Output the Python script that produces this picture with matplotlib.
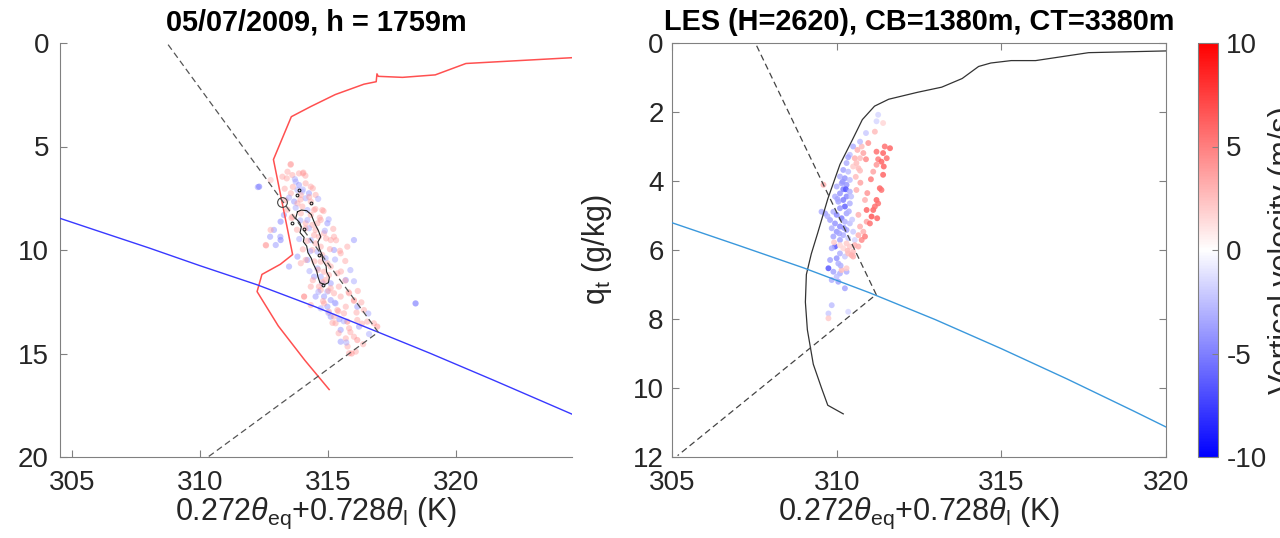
import matplotlib
matplotlib.use("Agg")
import matplotlib.pyplot as plt

plt.rcParams['font.family'] = ['Liberation Sans', 'DejaVu Sans']
plt.rcParams['mathtext.fontset'] = 'custom'
plt.rcParams['mathtext.rm'] = 'Liberation Sans'
plt.rcParams['mathtext.it'] = 'Liberation Sans:italic'
plt.rcParams['axes.unicode_minus'] = False

# ---------------- Left panel data (observations) ----------------
left_title = "05/07/2009, h = 1759m"
left_xticks = [305, 310, 315, 320]
left_yticks = [0, 5, 10, 15, 20]

obs_prof_x = [324.55, 320.4, 319.2, 317.92, 316.97, 316.92, 316.89, 316.41, 315.29, 314.33,
              313.57, 312.87, 313.62, 313.14, 312.42, 312.23, 313.06, 314.1, 315.05]
obs_prof_q = [0.71, 0.99, 1.54, 1.66, 1.61, 1.49, 1.87, 1.99, 2.49, 3.07,
              3.56, 5.63, 10.22, 10.69, 11.18, 12.01, 13.67, 15.33, 16.74]

obs_sat_x = [304.52, 306.0, 308.0, 310.0, 312.23, 314.5, 316.97, 319.0, 321.5, 324.55]
obs_sat_q = [8.47, 9.08, 9.9, 10.76, 11.68, 12.74, 13.97, 14.99, 16.30, 17.93]

obs_mix_x = [308.75, 316.97, 310.31]
obs_mix_q = [0.08, 13.97, 20.0]

obs_circle = (313.19, 7.7)

obs_cont_x = [313.81, 313.74, 313.90, 313.96, 313.91, 314.07, 314.04, 314.17, 314.22, 314.35,
              314.43, 314.56, 314.61, 314.69, 314.87, 315.02, 315.06, 314.95, 314.93, 314.80,
              314.77, 314.67, 314.61, 314.72, 314.63, 314.52, 314.43, 314.35, 314.17, 313.96,
              313.81]
obs_cont_q = [8.15, 8.47, 8.68, 8.90, 9.16, 9.39, 9.60, 9.81, 10.13, 10.40,
              10.68, 11.0, 11.29, 11.58, 11.67, 11.58, 11.32, 11.06, 10.77, 10.51,
              10.23, 9.94, 9.61, 9.36, 9.07, 8.81, 8.55, 8.29, 8.1, 8.07,
              8.15]

obs_dots_x = [313.87, 313.81, 314.33, 313.61, 314.65, 314.82, 314.05]
obs_dots_q = [7.10, 7.34, 7.75, 8.71, 10.24, 11.70, 9.00]

obs_pts_x = [313.55, 313.87, 314.04, 313.39, 312.76, 312.31, 313.61, 313.74, 313.87, 314.13,
             314.33, 314.26, 314.0, 314.52, 313.55, 313.35, 313.68, 314.0, 314.33, 314.46,
             314.78, 314.98, 314.72, 313.61, 313.28, 313.15, 312.89, 313.15, 312.57, 312.96,
             312.76, 314.13, 314.52, 314.85, 315.11, 315.24, 316.02, 315.76, 315.5, 315.24,
             313.48, 313.94, 313.81, 314.2, 314.46, 315.11, 315.37, 315.7, 315.43, 315.11,
             314.07, 314.33, 314.72, 314.52, 314.85, 315.11, 315.5, 315.83, 316.02, 314.33,
             314.98, 315.37, 315.7, 316.15, 316.41, 315.11, 315.63, 315.3, 315.76, 316.15,
             316.54, 315.5, 315.83, 316.22, 316.8, 316.93, 315.7, 316.02, 316.15, 315.5,
             316.09, 315.83, 318.43,
             313.81, 313.94, 314.13, 313.81, 314.2, 313.94, 314.33, 314.2, 314.39, 314.59,
             314.26, 314.46, 314.65, 314.33, 314.52, 314.72, 314.59, 314.78, 314.39, 314.91,
             314.72, 314.98, 314.59, 314.85, 315.04, 314.72, 314.91, 315.11, 314.78, 314.65,
             314.98, 315.24, 315.3, 314.85, 314.72, 315.04, 315.24,
             313.42, 313.54, 314.02, 312.58, 312.74, 313.14, 312.26, 315.77, 315.93, 315.45,
             313.22, 313.71, 314.12, 313.31, 313.63, 314.02, 314.41, 313.48, 313.93, 314.27,
             314.62, 313.42, 313.74, 314.51, 314.83, 313.58, 313.92, 314.68, 315.03, 313.79,
             314.12, 314.88, 315.21, 313.88, 314.19, 314.93, 315.32, 314.02, 314.31, 315.08,
             315.47, 314.13, 314.47, 315.28, 315.68, 314.28, 314.62, 315.51, 315.88, 314.41,
             314.79, 315.68, 316.02, 314.63, 315.02, 315.81, 316.17, 314.81, 315.27, 316.02,
             316.31, 315.02, 315.41, 316.12, 316.58, 315.18, 315.62, 316.33, 315.42, 315.88,
             316.61, 315.72, 316.38]
obs_pts_q = [5.85, 6.3, 6.26, 6.54, 6.62, 6.94, 6.38, 6.7, 6.86, 6.78,
             6.94, 7.26, 7.18, 7.34, 7.26, 7.59, 7.66, 7.9, 7.66, 8.07,
             8.07, 8.71, 8.55, 8.39, 8.31, 8.63, 9.03, 9.52, 9.76, 9.76,
             9.03, 8.71, 9.03, 9.19, 9.52, 9.36, 9.52, 9.84, 10.16, 10.0,
             10.8, 10.64, 10.32, 10.48, 11.29, 10.8, 11.13, 11.45, 11.77, 11.61,
             12.25, 11.77, 11.93, 12.25, 12.25, 12.42, 12.25, 12.09, 12.42, 12.66,
             12.74, 12.9, 12.74, 12.74, 12.9, 13.22, 13.06, 13.54, 13.46, 13.38,
             13.46, 13.86, 13.78, 13.7, 13.54, 13.7, 14.27, 14.19, 14.35, 14.43,
             14.91, 14.99, 12.58,
             7.10, 7.34, 7.50, 7.75, 8.07, 8.23, 8.31, 8.55, 8.79, 8.71,
             8.95, 9.28, 9.36, 9.52, 9.68, 9.84, 10.08, 10.24, 10.0, 10.4,
             10.56, 10.64, 10.89, 11.05, 11.21, 11.29, 11.45, 11.85, 11.61, 11.77,
             12.01, 12.09, 12.58, 12.58, 12.82, 12.98, 13.22,
             6.22, 5.88, 6.3, 9.78, 9.36, 9.36, 6.96, 14.66, 15.0, 13.34,
             6.46, 6.58, 6.41, 7.04, 6.95, 7.08, 7.02, 7.47, 7.56, 7.44,
             7.53, 8.05, 7.96, 8.02, 8.12, 8.46, 8.57, 8.44, 8.52, 9.02,
             8.96, 9.07, 8.98, 9.47, 9.56, 9.44, 9.53, 9.97, 10.06, 9.96,
             10.04, 10.48, 10.55, 10.46, 10.53, 11.02, 10.96, 11.04, 10.97, 11.46,
             11.55, 11.48, 11.51, 12.02, 11.97, 12.04, 11.98, 12.47, 12.55, 12.46,
             12.53, 13.04, 12.96, 13.02, 13.07, 13.52, 13.44, 13.56, 14.02, 13.97,
             14.06, 14.47, 14.55]
obs_pts_w = [4, 4, 4, 4, 3, -7, 4, -4, -5, 4,
             4, -5, -3, 4, 4, 4, -5, 4, 4, 4,
             4, -5, 4, 4, -5, -6, -5, -6, 4, -5,
             4, 4, 4, 4, 4, 4, -5, 4, 4, -5,
             -5, 4, -5, -5, -5, 4, 4, -5, 4, -5,
             7, 4, 4, -5, -5, -5, 4, 4, 4, 4,
             -5, 4, 4, -5, 4, -5, 4, 4, 6, 4,
             4, -5, 4, -5, 4, 5, 4, 4, 5, -5,
             4, 4, -8,
             -4, 4, -4, 4, -4, 4, 4, -4, 4, 4,
             -4, 4, 4, -4, 4, 4, -4, 4, 4, -4,
             4, 4, -4, 4, 4, -4, 4, 4, -4, 4,
             -4, 4, -4, 4, -4, 4, 4,
             4, 4, 4, 4, -5, -5, -5, 4, 5, -5,
             4, -4, 4, 4, 4, -4, 4, -4, 4, 4,
             -4, 4, -4, 4, 4, 4, -4, 4, -4, 4,
             4, -4, 4, -4, 4, 4, 4, 4, -4, 4,
             4, 4, 4, -4, 4, -4, 4, 4, -4, 4,
             4, 4, -4, -4, 4, 4, 4, 4, -4, 4,
             4, -4, 4, 4, -4, 4, -4, 4, 4, 4,
             -4, -4, 4]

# ---------------- Right panel data (LES) ----------------
right_title = "LES (H=2620), CB=1380m, CT=3380m"
right_xticks = [305, 310, 315, 320]
right_yticks = [0, 2, 4, 6, 8, 10, 12]

les_prof_x = [320.0, 317.65, 316.04, 315.3, 314.68, 314.31, 313.81, 313.19, 312.45, 311.58,
              311.15, 310.78, 310.47, 310.1, 309.73, 309.42, 309.23, 309.08, 309.05, 309.11,
              309.29, 309.54, 309.73, 310.2]
les_prof_q = [0.23, 0.28, 0.51, 0.51, 0.58, 0.68, 1.03, 1.28, 1.43, 1.63,
              1.83, 2.22, 2.82, 3.52, 4.52, 5.52, 6.11, 6.71, 7.51, 8.31,
              9.31, 10.0, 10.5, 10.75]

les_sat_x = [305.0, 307.0, 309.0, 311.0, 313.0, 315.0, 317.0, 319.0, 320.0]
les_sat_q = [5.21, 5.86, 6.52, 7.24, 8.02, 8.86, 9.74, 10.66, 11.13]

les_mix_x = [307.57, 311.2, 305.17]
les_mix_q = [0.08, 7.29, 11.96]

les_pts_x = [311.26, 311.21, 311.41, 311.16, 310.89, 310.96, 310.76, 310.71, 310.5, 310.63,
             310.4, 310.35, 310.55, 310.71, 310.81, 310.89, 311.21, 311.41, 311.46, 311.62,
             311.52, 311.26, 311.36, 311.21, 311.43, 311.11, 311.41, 310.66, 310.71, 310.5, 310.6,
             310.3, 310.2, 310.35, 310.1, 310.25, 310.4, 310.15, 310.3, 310.0, 310.2,
             310.28, 310.4, 310.1, 309.95, 310.3, 310.2, 310.05, 310.4, 310.25, 310.1,
             309.9, 309.54, 309.65, 310.0, 310.3, 310.15, 309.8, 309.95, 310.25, 310.4,
             310.1, 309.85, 310.3, 310.0, 310.5, 310.2, 309.9, 310.35, 310.1, 310.55,
             309.95, 309.85, 310.2, 310.1, 310.0, 310.25, 309.8, 310.05, 309.75, 309.9,
             310.1, 310.0, 310.3, 309.85, 310.05, 310.25, 309.85, 309.75, 309.75, 310.35,
             310.66, 310.91, 311.11, 311.21, 311.26, 311.31, 311.36, 310.6, 310.86, 311.06,
             311.16, 310.91, 311.01, 311.23, 310.71, 310.81, 310.66, 310.76, 310.86, 310.55,
             310.66, 310.5, 310.4, 310.3, 310.5, 310.1, 310.35, 309.6, 310.15, 310.3, 310.45,
             310.18, 310.02, 310.37, 309.72, 310.22, 310.47, 310.08, 309.92, 310.33, 310.12,
             310.44, 310.58, 310.72, 310.93, 311.04]
les_pts_q = [2.08, 2.27, 2.32, 2.57, 2.61, 2.9, 3.0, 2.86, 3.0, 3.1,
             3.24, 3.31, 3.34, 3.34, 3.19, 3.37, 3.15, 3.19, 3.0, 3.05,
             3.34, 3.37, 3.44, 3.53, 3.58, 3.73, 3.82, 3.63, 3.7, 3.58, 3.48,
             3.48, 3.68, 3.73, 3.87, 3.92, 3.97, 4.07, 4.11, 4.16, 4.24,
             4.24, 4.31, 4.36, 4.45, 4.45, 4.55, 4.6, 4.65, 4.74, 4.79,
             4.89, 4.89, 4.94, 4.98, 4.94, 5.08, 5.13, 5.23, 5.18, 5.23,
             5.32, 5.37, 5.42, 5.47, 5.47, 5.57, 5.61, 5.66, 5.71, 5.71,
             5.9, 5.95, 5.95, 6.1, 6.24, 6.19, 6.29, 6.39, 6.53, 6.63,
             6.68, 6.77, 6.63, 6.87, 6.92, 7.11, 7.6, 7.84, 7.98, 7.79,
             4.98, 4.84, 4.84, 4.55, 4.65, 4.21, 4.26, 4.26, 4.55, 5.03,
             4.74, 5.18, 5.23, 5.08, 5.32, 5.47, 5.57, 5.71, 5.61, 5.86,
             5.9, 6.05, 5.9, 5.81, 6.19, 5.86, 6.1, 4.11, 6.58, 6.53, 6.15,
             4.02, 4.52, 4.88, 5.02, 5.36, 5.12, 5.52, 5.78, 6.02, 6.45,
             4.45, 3.88, 4.05, 4.35, 3.95]
les_pts_w = [-1.5, -1.5, 1.5, 2.5, -2.0, 4.0, 2.5, -2.5, -3.0, 3.0,
             -2.5, -3.5, 3.0, 2.5, 3.5, 4.5, 5.5, 6.0, 5.5, 6.0,
             5.5, 5.0, 6.0, 4.0, 6.0, 3.5, 6.0, 2.5, 2.5, 2.0, 2.5,
             -3, -3.5, -2.5, -3, -4, -2.5, -3.5, -4, -3, -5,
             -6.5, -3, -4, -3, -4.5, -5, -3.5, -3, -6, -4,
             -3, -3, -3.5, -4.5, -3.5, -5, -3.5, -4, -3, -2.5,
             -4.5, -3, -3.5, -4, -2, -3, -3.5, -2, -3.5, -1.5,
             -6.5, -3, 1.5, -3, -4, -2, -3.5, -3, -6.5, -3.5,
             -3, -2.5, -3, -3, -3.5, -3.5, -2.5, -2, 2, -1.5,
             3, 6, 6, 6, 5.5, 6, 5.5, 3, 3, 6.5,
             5.5, 3.5, 5.5, 6, 3, 3, 3, 4.5, 5, 3,
             3, 2.5, 2, 2, 3, 1.5, 2.5, 3, 2.5, 2, 3,
             -4, -3.5, -3, -3, -4, -2, -3.5, 2, 2.5, -3,
             -2.5, 2.5, 3.5, 4, 5]

cbar_ticks = [-10, -5, 0, 5, 10]

# ---------------- Figure ----------------
W, H = 1280, 538
fig = plt.figure(figsize=(W / 100, H / 100), dpi=100)

def fx(px):
    return px / W

def fy(py):
    return 1 - py / H

top_px, bot_px = 43, 457
ax1 = fig.add_axes([fx(60), fy(bot_px), fx(572 - 60), (bot_px - top_px) / H])
ax2 = fig.add_axes([fx(672), fy(bot_px), fx(1166 - 672), (bot_px - top_px) / H])
cax = fig.add_axes([fx(1198), fy(bot_px), fx(20), (bot_px - top_px) / H])

txt_col = '#262626'
ax_col = '#808080'
fs_tick = 20
fs_lab = 22
fs_title = 20.8
xlab = r'0.272$\theta_{\mathrm{eq}}$+0.728$\theta_{\mathrm{l}}$ (K)'
cmap = plt.get_cmap('bwr')

# Left panel
ax1.scatter(obs_pts_x, obs_pts_q, c=obs_pts_w, cmap=cmap, vmin=-10, vmax=10,
            s=20, alpha=0.42, linewidths=0, zorder=2)
ax1.plot(obs_prof_x, obs_prof_q, color='#ff5050', lw=1.1, zorder=3)
ax1.plot(obs_sat_x, obs_sat_q, color='#3838ff', lw=1.0, zorder=3)
ax1.plot(obs_mix_x, obs_mix_q, color='#555555', lw=0.9, ls=(0, (5, 3)), zorder=3)
ax1.plot(obs_cont_x, obs_cont_q, color='#222222', lw=0.8, zorder=4)
ax1.plot(obs_dots_x, obs_dots_q, ls='none', marker='o', ms=2, mfc='none',
         mec='#222222', mew=0.8, zorder=4)
ax1.plot([obs_circle[0]], [obs_circle[1]], marker='o', ms=7, mfc='none',
         mec='#444444', mew=0.8, zorder=4)
ax1.set_xlim(304.52, 324.55)
ax1.set_ylim(20, 0)
ax1.set_xticks(left_xticks)
ax1.set_yticks(left_yticks)
for s in ['top', 'right']:
    ax1.spines[s].set_visible(False)
for s in ['left', 'bottom']:
    ax1.spines[s].set_color(ax_col)
ax1.tick_params(direction='in', length=5, color=ax_col, labelcolor=txt_col,
                labelsize=fs_tick)
ax1.tick_params(axis='x', pad=9)
ax1.tick_params(axis='y', pad=8)
ax1.set_title(left_title, fontsize=fs_title, fontweight='bold', color='black', pad=9)
ax1.set_xlabel(xlab, fontsize=fs_lab, color=txt_col, labelpad=0)

# Right panel
sc = ax2.scatter(les_pts_x, les_pts_q, c=les_pts_w, cmap=cmap, vmin=-10, vmax=10,
                 s=18, alpha=0.85, linewidths=0, zorder=2)
ax2.plot(les_prof_x, les_prof_q, color='#333333', lw=0.9, zorder=3)
ax2.plot(les_sat_x, les_sat_q, color='#3a98dc', lw=1.0, zorder=3)
ax2.plot(les_mix_x, les_mix_q, color='#444444', lw=0.9, ls=(0, (5, 3)), zorder=3)
ax2.set_xlim(305, 320)
ax2.set_ylim(12, 0)
ax2.set_xticks(right_xticks)
ax2.set_yticks(right_yticks)
for s in ax2.spines.values():
    s.set_color(ax_col)
ax2.tick_params(direction='in', length=5, color=ax_col, labelcolor=txt_col,
                labelsize=fs_tick, top=True, right=True)
ax2.tick_params(axis='x', pad=9)
ax2.tick_params(axis='y', pad=6)
ax2.set_title(right_title, fontsize=fs_title, fontweight='bold', color='black', pad=9)
ax2.set_xlabel(xlab, fontsize=fs_lab, color=txt_col, labelpad=0)
ax2.set_ylabel(r'q$_{\mathrm{t}}$ (g/kg)', fontsize=fs_lab, color=txt_col)
ax2.yaxis.set_label_coords(-0.118, 0.5)

# Colorbar
cb = fig.colorbar(sc, cax=cax, ticks=cbar_ticks)
cb.solids.set_alpha(1)
cb.outline.set_edgecolor(ax_col)
cb.ax.tick_params(direction='in', length=4, color=ax_col, labelcolor=txt_col,
                  labelsize=fs_tick, pad=6)
cb.set_label('Vertical velocity (m/s)', fontsize=fs_lab, color=txt_col)
cb.ax.yaxis.set_label_coords((1268 - 1198) / 20, 0.5)

fig.savefig('out.png', dpi=100)
